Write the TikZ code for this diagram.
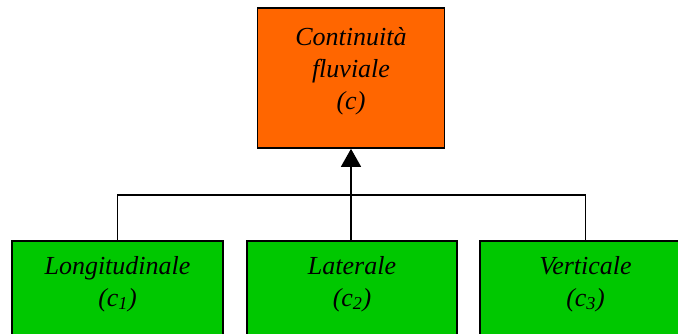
\documentclass[tikz,border=0pt]{standalone}
\usepackage{fontspec}
\setmainfont{Liberation Serif}
\usetikzlibrary{arrows.meta}

\definecolor{arancio}{HTML}{FF6600}
\definecolor{verde}{HTML}{00C800}

\tikzset{
  scatola/.style={draw=black, line width=1.6pt, inner sep=0pt},
  testo/.style={align=center, inner sep=0pt,
    font=\fontsize{26}{32}\selectfont\itshape},
  freccia/.style={line width=1.3pt, -{Triangle[width=20pt,length=18pt]}}
}

\begin{document}
\begin{tikzpicture}[x=1pt,y=-1pt]
\useasboundingbox (0,0) rectangle (678,333);
\clip (0,0) rectangle (678,333);

% Continuita' fluviale
\node[scatola, fill=arancio, minimum width=187pt, minimum height=140pt]
(cont) at (351,78) {};
\node[testo] (contT) at ([yshift=7pt]cont.center)
{Continuità\\fluviale\\(c)};

% Componenti
\node[scatola, fill=verde, minimum width=211pt, minimum height=110pt]
(long) at (117.5,296) {};
\node[scatola, fill=verde, minimum width=210pt, minimum height=110pt]
(lat) at (352,296) {};
\node[scatola, fill=verde, minimum width=211pt, minimum height=110pt]
(vert) at (585.5,296) {};

\node[testo] (longT) at (117.5,284) {Longitudinale\\(c\textsubscript{1})};
\node[testo] (latT) at (352,284) {Laterale\\(c\textsubscript{2})};
\node[testo] (vertT) at (585.5,284) {Verticale\\(c\textsubscript{3})};

% Collegamenti
\coordinate (barra) at (351,195);
\draw[line width=1.3pt]
(long.north) |- (barra) -| (vert.north);
\draw[freccia]
(lat.north -| cont.south) -- (cont.south);

\end{tikzpicture}
\end{document}
